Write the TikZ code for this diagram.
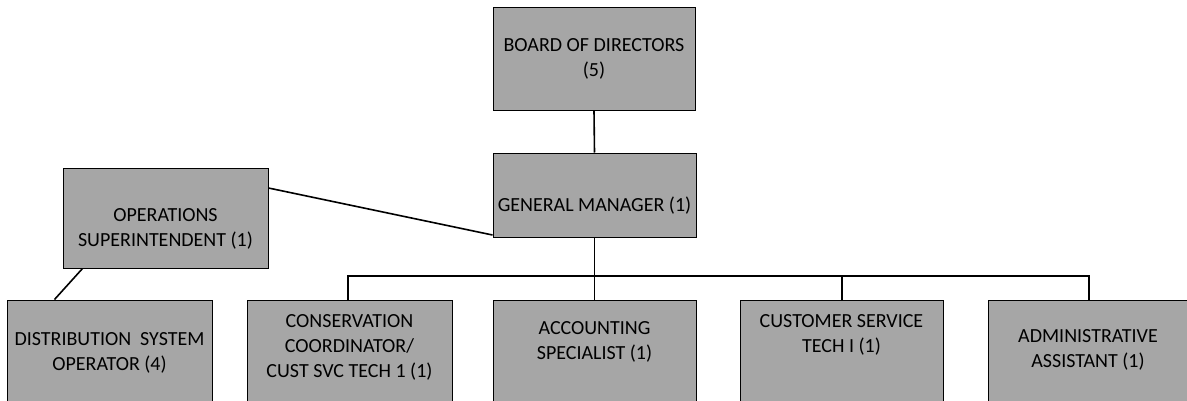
\documentclass[tikz,border=0pt]{standalone}
\usepackage{fontspec}
\setmainfont{Carlito}
\begin{document}
\begin{tikzpicture}[x=1pt,y=-1pt,
  box/.style={draw=black,line width=1pt,fill=black!35,inner sep=0pt},
  txt/.style={align=center,font=\fontsize{20}{25}\selectfont,inner sep=0pt},
  conn/.style={draw=black,line width=1.6pt}]
\clip (0,0) rectangle (1187,400);
% boxes
\node[box,minimum width=202pt,minimum height=103pt] (bod) at (594,58.5) {};
\node[box,minimum width=203pt,minimum height=84pt] (gm) at (594.5,195) {};
\node[box,minimum width=205pt,minimum height=100pt] (ops) at (165.5,218) {};
\node[box,minimum width=205pt,minimum height=110pt] (dso) at (109.5,355) {};
\node[box,minimum width=205pt,minimum height=110pt] (cc) at (349.5,355) {};
\node[box,minimum width=203pt,minimum height=110pt] (acc) at (594.5,355) {};
\node[box,minimum width=203pt,minimum height=110pt] (cst) at (841.5,355) {};
\node[box,minimum width=205pt,minimum height=110pt] (adm) at (1090.5,355) {};
% texts
\node[txt] (tbod) at (594,59) {BOARD OF DIRECTORS\\(5)};
\node[txt] (tgm) at (594.5,206) {GENERAL MANAGER (1)};
\node[txt] (tops) at (165.5,229) {OPERATIONS\\SUPERINTENDENT (1)};
\node[txt] (tdso) at (109.5,353) {DISTRIBUTION\ \ SYSTEM\\OPERATOR (4)};
\node[txt] (tcc) at (349.5,347) {CONSERVATION\\COORDINATOR/\\CUST SVC TECH 1 (1)};
\node[txt] (tacc) at (594.5,342) {ACCOUNTING\\SPECIALIST (1)};
\node[txt] (tcst) at (841.5,335) {CUSTOMER SERVICE\\TECH I (1)};
\node[txt] (tadm) at (1088,350) {ADMINISTRATIVE\\ASSISTANT (1)};
% connectors
\coordinate (bus) at (594,276);
\draw[conn] (bod.south) -- (gm.north);
\draw[conn] (gm.south -| acc.north) -- (acc.north);
\draw[conn] (ops.north east |- 0,188) -- (gm.west |- 0,235);
\draw[conn] (ops.south west) ++(20pt,0) -- ([xshift=48pt]dso.north west);
\draw[conn] (cc.north -| 348,0) |- (bus) -| (adm.north -| 1089,0);
\draw[conn] (bus -| 842,0) -- (cst.north -| 842,0);
\end{tikzpicture}
\end{document}
